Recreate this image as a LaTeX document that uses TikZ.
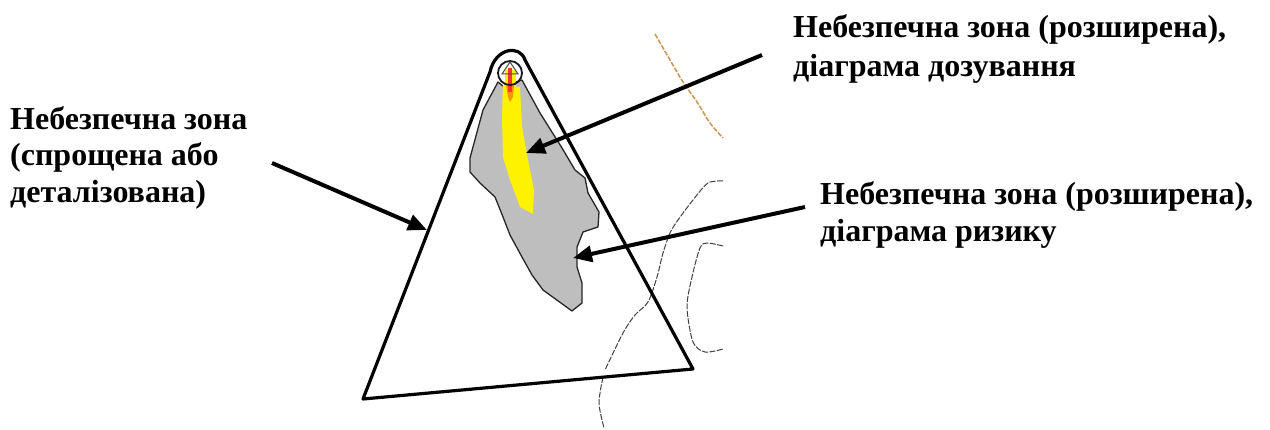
\documentclass[tikz,border=0pt]{standalone}
\usepackage{fontspec}
\setmainfont{Liberation Serif}
\usetikzlibrary{arrows.meta}
\tikzset{
 lab/.style={font=\fontsize{32}{36}\selectfont\bfseries,anchor=base west,inner sep=0pt},
 arr/.style={line width=4pt,-{Triangle[length=19pt,width=16pt]}},
 tri/.style={line width=3.2pt,line join=round,black},
 thin1/.style={line width=1pt,black!75,dash pattern=on 6pt off 1.5pt,smooth},
}
\begin{document}
\begin{tikzpicture}[x=1pt,y=-1pt]
\useasboundingbox (0,0) rectangle (1270,430);
% thin background lines
\draw[line width=1.5pt,color={rgb,255:red,205;green,150;blue,80},dash pattern=on 5pt off 1.5pt] plot[smooth] coordinates {(655,34) (670,60) (683,82) (697,102) (710,123) (723,138)};
\draw[thin1] plot[smooth] coordinates {(723,181) (708,183) (693,200) (678,220) (670,233) (663,253) (657,277) (648,302) (635,315) (623,333) (605,370)};
\draw[thin1] plot[smooth] coordinates {(603,377) (599,403) (604,428)};
\draw[thin1] plot[smooth] coordinates {(723,246) (707,243) (700,248) (692,277) (687,307) (693,342) (705,352) (723,349)};
% grey zone
\draw[fill={rgb,255:red,190;green,190;blue,190},draw=black!85,line width=1.3pt,line join=round]
 (503,86) -- (498,82) -- (483,110) -- (470,158) -- (470,172) -- (480,183) -- (495,197) -- (503,217) -- (510,235) -- (522,257) -- (532,275) -- (543,290) -- (572,311) -- (582,303) -- (582,283) -- (577,267) -- (577,247) -- (583,232) -- (598,227) -- (599,212) -- (588,193) -- (585,178) -- (575,170) -- (562,148) -- (540,113) -- (522,80) -- cycle;
% yellow plume
\fill[yellow] (503,85) -- (520,87) -- (522,127) -- (528,160) -- (534,190) -- (533,214) -- (520,207) -- (510,180) -- (503,157) -- (502,117) -- cycle;
\fill[yellow] (505,70) rectangle (516,86);
\fill[orange!85!yellow] (506,85) -- (514,85) -- (513,97) -- (510,102) -- (508,97) -- cycle;
\fill[red!80!white] (508,68) rectangle (512,92);
% triangle + inner circle
\draw[line width=1.8pt,black!90] (510,73) circle[radius=12pt];
\draw[line width=1pt,black!70] (502,74) -- (510,62) -- (518,74) -- cycle;
\draw[tri] (363,399) -- (490,72) .. controls (495,48) and (520,44) .. (525,60) -- (693,369) -- cycle;
% labels
\node[lab] (t1) at (10,130) {Небезпечна зона};
\node[lab] (t2) at (10,166) {(спрощена або};
\node[lab] (t3) at (10,203) {деталізована)};
\node[lab] (r1) at (793,38) {Небезпечна зона (розширена),};
\node[lab] (r2) at (793,77) {діаграма дозування};
\node[lab] (s1) at (820,205) {Небезпечна зона (розширена),};
\node[lab] (s2) at (820,242) {діаграма ризику};
% arrows
\coordinate (a1s) at (272,163); \coordinate (a1e) at (427,230);
\coordinate (a2s) at (762,55); \coordinate (a2e) at (526,153);
\coordinate (a3s) at (805,207); \coordinate (a3e) at (573,258);
\draw[arr] (a1s) -- (a1e);
\draw[arr] (a2s) -- (a2e);
\draw[arr] (a3s) -- (a3e);
\end{tikzpicture}
\end{document}
